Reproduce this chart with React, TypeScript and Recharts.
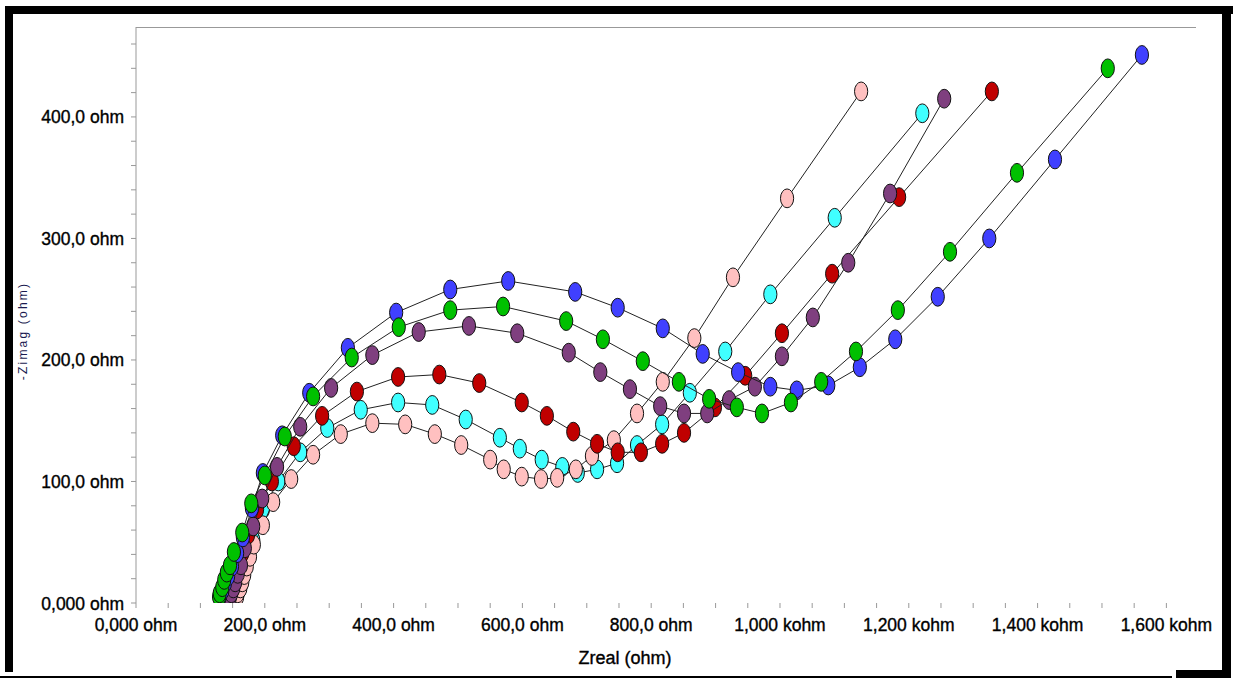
import React from 'react';
import { ScatterChart, Scatter, XAxis, YAxis } from 'recharts';

// Series values: [Zreal (ohm), -Zimag (ohm)]
const blueData: [number, number][] = [
  [130, 5], [134, 10], [138, 16], [143, 22], [149, 30], [157, 41], [166, 54], [180, 78],
  [197, 107], [227, 138], [269, 173], [329, 210], [404, 239], [488, 258], [578, 265],
  [682, 256], [748, 243], [818, 226], [880, 205], [935, 190], [985, 178], [1026, 175],
  [1075, 179], [1124, 194], [1179, 217], [1245, 252], [1325, 300], [1427, 365], [1562, 451],
];
const greenData: [number, number][] = [
  [129, 5], [130, 8], [134, 13], [137, 19], [141, 25], [146, 31], [152, 42], [165, 58],
  [179, 82], [200, 105], [231, 137], [275, 170], [335, 202], [408, 227], [488, 241],
  [570, 244], [668, 232], [725, 217], [787, 199], [843, 182], [890, 168], [933, 161],
  [972, 156], [1017, 165], [1064, 182], [1118, 207], [1183, 241], [1264, 289], [1368, 354],
  [1509, 440],
];
const purpleData: [number, number][] = [
  [146, 5], [148, 8], [151, 12], [154, 17], [158, 24], [163, 31], [169, 45], [182, 63],
  [196, 86], [219, 112], [255, 145], [303, 177], [367, 204], [439, 223], [517, 228],
  [592, 222], [672, 206], [721, 190], [767, 176], [814, 162], [851, 156], [887, 156],
  [921, 167], [961, 178], [1003, 203], [1051, 235], [1106, 280], [1171, 337], [1255, 415],
];
const redData: [number, number][] = [
  [143, 5], [146, 10], [149, 16], [154, 22], [158, 31], [165, 41], [174, 56], [188, 77],
  [211, 100], [245, 129], [289, 154], [343, 174], [407, 186], [471, 188], [533, 181],
  [599, 165], [638, 154], [679, 141], [716, 131], [748, 124], [784, 124], [817, 131],
  [851, 140], [899, 161], [946, 187], [1003, 222], [1081, 271], [1185, 334], [1329, 421],
];
const cyanData: [number, number][] = [
  [149, 5], [152, 9], [155, 14], [160, 21], [165, 28], [172, 38], [182, 52], [197, 77],
  [221, 100], [255, 124], [297, 144], [349, 159], [407, 165], [460, 163], [512, 151],
  [565, 136], [596, 127], [630, 118], [662, 112], [686, 107], [716, 110], [747, 115],
  [778, 130], [817, 147], [860, 173], [915, 207], [985, 254], [1085, 317], [1221, 403],
];
const pinkData: [number, number][] = [
  [157, 5], [158, 8], [162, 12], [165, 17], [168, 23], [172, 30], [177, 38], [183, 48],
  [197, 64], [213, 83], [241, 102], [275, 122], [318, 139], [367, 148], [418, 147],
  [464, 139], [505, 130], [550, 118], [571, 110], [599, 104], [629, 102], [654, 103],
  [683, 110], [708, 121], [742, 134], [778, 156], [818, 182], [867, 218], [927, 268],
  [1011, 333], [1126, 421],
];

const seriesNames = ['cyan', 'pink', 'red', 'purple', 'blue', 'green'];
const seriesColors = ['#40ffff', '#ffc0c0', '#c00000', '#7f3f7f', '#4040ff', '#00c000'];
const seriesValues = [cyanData, pinkData, redData, purpleData, blueData, greenData];

const xLabelValues = [0, 200, 400, 600, 800, 1000, 1200, 1400, 1600];
const xTickLabels = ['0,000 ohm', '200,0 ohm', '400,0 ohm', '600,0 ohm', '800,0 ohm', '1,000 kohm', '1,200 kohm', '1,400 kohm', '1,600 kohm'];
const yLabelValues = [0, 100, 200, 300, 400];
const yTickLabels = ['0,000 ohm', '100,0 ohm', '200,0 ohm', '300,0 ohm', '400,0 ohm'];

const xMinorTicks = Array.from({ length: 33 }, (_, i) => i * 50);
const yMinorTicks = Array.from({ length: 24 }, (_, i) => i * 20);

const FONT = '"Liberation Sans", Arial, sans-serif';

const XTick = (props: any) => {
  const { x, y, payload } = props;
  const idx = xLabelValues.indexOf(payload.value);
  if (idx < 0) return null;
  return (
    <text x={x} y={y + 21} textAnchor="middle" fontFamily={FONT} fontSize={17.5} fill="#000" stroke="#000" strokeWidth={0.35}>
      {xTickLabels[idx]}
    </text>
  );
};

const YTick = (props: any) => {
  const { x, y, payload } = props;
  const idx = yLabelValues.indexOf(payload.value);
  if (idx < 0) return null;
  return (
    <text x={x} y={y + 6.5} textAnchor="end" fontFamily={FONT} fontSize={17.5} fill="#000" stroke="#000" strokeWidth={0.35}>
      {yTickLabels[idx]}
    </text>
  );
};

const makeShape = (color: string) => (p: any) => (
  <ellipse cx={p.cx} cy={p.cy} rx={6.6} ry={9.4} fill={color} stroke="#111" strokeWidth={1} />
);

export default function App() {
  return (
    <div style={{ position: 'fixed', left: 0, top: 0, width: 1235, height: 678, background: '#fff' }}>
      <ScatterChart width={1235} height={678} margin={{ top: 27, right: 39, left: 0, bottom: 0 }}>
        <XAxis
          type="number"
          dataKey="x"
          domain={[0, 1646]}
          ticks={xMinorTicks}
          interval={0}
          axisLine={false}
          tickLine={{ stroke: '#999' }}
          tickSize={5}
          tickMargin={2}
          height={75}
          tick={<XTick />}
          allowDataOverflow
        />
        <YAxis
          type="number"
          dataKey="y"
          domain={[0, 474]}
          ticks={yMinorTicks}
          interval={0}
          axisLine={{ stroke: '#999' }}
          tickLine={{ stroke: '#999' }}
          tickSize={5}
          tickMargin={7}
          width={136}
          tick={<YTick />}
          allowDataOverflow
        />
        {seriesValues.map((vals, i) => (
          <Scatter
            key={seriesNames[i]}
            name={seriesNames[i]}
            data={vals.map(([x, y]) => ({ x, y }))}
            fill={seriesColors[i]}
            line={{ stroke: '#222', strokeWidth: 1 }}
            lineType="joint"
            shape={makeShape(seriesColors[i])}
            isAnimationActive={false}
          />
        ))}
      </ScatterChart>
      <svg width={1235} height={678} style={{ position: 'absolute', left: 0, top: 0, pointerEvents: 'none' }}>
        <line x1={136} y1={27.5} x2={1196} y2={27.5} stroke="#999" strokeWidth={1} />
        <text x={625} y={664} textAnchor="middle" fontFamily={FONT} fontSize={18} fill="#000" stroke="#000" strokeWidth={0.35}>Zreal (ohm)</text>
        <text
          transform="translate(27,331) rotate(-90)"
          textAnchor="middle"
          fontFamily={FONT}
          fontSize={12}
          letterSpacing={2.2}
          fill="#1a1a50"
        >
          -Zimag (ohm)
        </text>
        {/* frame */}
        <rect x={5} y={6} width={1228} height={8} fill="#000" />
        <rect x={5} y={6} width={8} height={666} fill="#000" />
        <rect x={1222} y={6} width={9} height={666} fill="#000" />
        <rect x={0} y={676} width={1172} height={2} fill="#000" />
        <rect x={1176} y={670} width={55} height={8} fill="#000" />
      </svg>
    </div>
  );
}
